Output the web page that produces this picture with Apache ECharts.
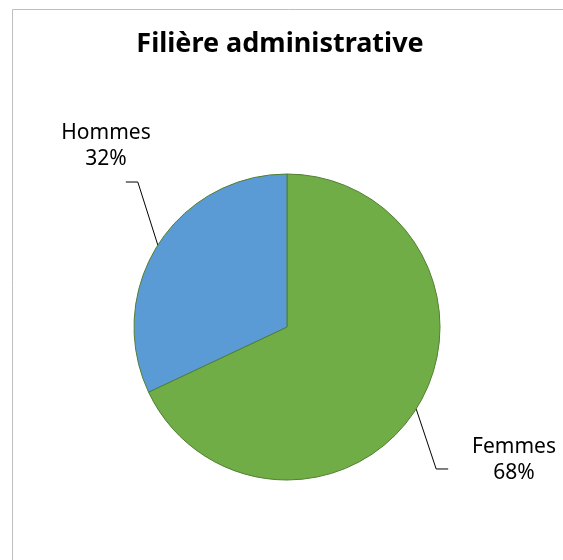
<!DOCTYPE html>
<html>
<head>
<meta charset="utf-8">
<script src="https://cdn.jsdelivr.net/npm/echarts@6/dist/echarts.min.js"></script>
<style>
  html, body { margin: 0; padding: 0; background: #fff; }
  #div-chart { width: 563px; height: 560px; }
</style>
</head>
<body>
<div id="div-chart"></div>
<script>
var categories = ['Femmes', 'Hommes'];
var values = [68, 32];
var colors = ['#70AD47', '#5B9BD5'];

var myChart = echarts.init(document.getElementById('div-chart'));

// label centres, Excel-like placement
var labelPos = [[514, 460], [106, 146]];

option = {
    animation: false,
    title: {
        text: 'Filière administrative',
        left: 275,
        top: 26,
        textAlign: 'center',
        textStyle: {
            fontFamily: 'Noto Sans',
            fontSize: 27,
            fontWeight: 'bold',
            color: '#000'
        }
    },
    graphic: [
        {
            type: 'rect',
            shape: {x: 12.5, y: 9.5, width: 600, height: 600},
            style: {fill: 'none', stroke: '#BFBFBF', lineWidth: 1},
            silent: true
        }
    ],
    series: [
        {
            type: 'pie',
            center: [287, 327],
            radius: 153,
            startAngle: 90,
            clockwise: true,
            itemStyle: {borderColor: '#507E32', borderWidth: 1},
            label: {
                show: true,
                position: 'outside',
                formatter: '{b}\n{d}%',
                fontFamily: 'Noto Sans',
                fontSize: 21,
                lineHeight: 26,
                color: '#000',
                align: 'center'
            },
            labelLine: {
                show: true,
                lineStyle: {color: '#000', width: 1}
            },
            labelLayout: function (params) {
                var p = labelPos[params.dataIndex];
                var p0 = params.labelLinePoints ? params.labelLinePoints[0] : null;
                var res = {x: p[0], y: p[1], align: 'center', verticalAlign: 'middle'};
                if (p0) {
                    var s = p[0] > p0[0] ? 1 : -1;
                    var p1 = [p0[0] + s * 20, p0[1] + (p[1] > p0[1] ? 60 : -63)];
                    var p2 = [p1[0] + s * 12, p1[1]];
                    res.labelLinePoints = [p0, p1, p2];
                }
                return res;
            },
            data: categories.map(function (c, i) {
                return {name: c, value: values[i], itemStyle: {color: colors[i]}};
            })
        }
    ]
};

myChart.setOption(option);
</script>
</body>
</html>
